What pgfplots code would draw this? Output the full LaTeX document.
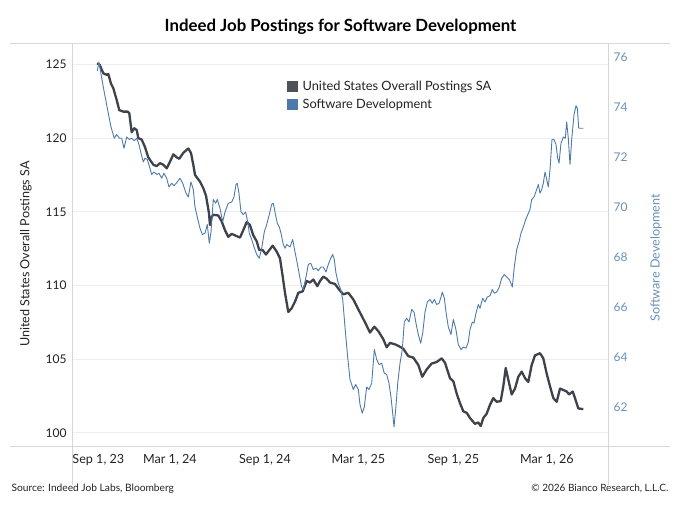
\documentclass[border=0pt]{standalone}
\usepackage{pgfplots}
\pgfplotsset{compat=1.18}
\usepackage{fontspec}
\setmainfont{Lato}
\definecolor{darkser}{HTML}{3F424A}
\definecolor{blueser}{HTML}{4D7AAB}
\definecolor{bluelab}{HTML}{6A8FBA}
\definecolor{framecol}{HTML}{D6D6D6}
\definecolor{gridcol}{HTML}{EEEEEE}
\definecolor{txtcol}{HTML}{222222}
\begin{document}
\begin{tikzpicture}[x=1pt,y=1pt]
\path[use as bounding box] (0,0) rectangle (680,510);
\begin{axis}[
  at={(72pt,64pt)}, anchor=south west,
  width=536pt, height=403pt, scale only axis,
  xmin=-7.7, xmax=1030.4,
  ymin=99.10, ymax=126.46,
  axis x line*=bottom, axis y line*=left,
  axis line style={draw=none},
  major tick length=0pt,
  xtick={0,182,366,547,731,912},
  xticklabels={{\makebox[0pt][l]{\hspace{-3.5pt}Sep 1, 23}},{Mar 1, 24},{Sep 1, 24},{Mar 1, 25},{Sep 1, 25},{Mar 1, 26}},
  ytick={100,105,110,115,120,125},
  ymajorgrids, major grid style={gridcol, line width=0.8pt},
  tick label style={font=\fontsize{12}{14}\selectfont, text=txtcol},
  xticklabel style={yshift=-4.5pt, font=\fontsize{12.6}{14}\selectfont},
  yticklabel style={xshift=-2pt},
  /pgf/number format/assume math mode=true,
  clip=false,
]
\addplot[darkser, line width=2.3pt, line join=round] table {
41 125.08
46 124.97
53 124.4
59.5 124.3
62.6 124.36
67.8 123.7
72.2 123.4
78.8 122.6
83.9 121.9
91.6 121.8
100.1 121.8
103.2 121.7
107.9 120.4
112.9 120.67
117.6 120.55
120.7 120.0
127.3 119.9
133.6 119.4
140.0 118.7
149.7 118.2
156.3 118.1
162.7 118.3
169.1 118.2
175.7 117.95
182.1 118.4
188.5 118.9
195.0 118.7
200.1 118.6
207.8 119.0
217.5 119.3
222.7 119.0
227.2 118.2
230.5 117.5
240.2 117.05
246.6 116.6
251.8 116.1
257.6 114.9
259.5 114.1
262.8 114.65
265.9 114.8
275.6 114.75
282.2 114.35
288.6 113.75
295.0 113.3
301.6 113.5
308.0 113.4
317.7 113.25
324.0 113.75
330.6 114.3
337.0 114.1
343.4 113.4
350.0 113.0
355.0 112.4
361.6 112.4
368.0 112.1
374.4 112.4
381.0 112.7
388.7 112.3
395.1 111.85
400.4 110.6
404.8 109.5
411.2 108.2
417.8 108.45
424.2 108.9
430.6 109.5
439.1 109.6
446.8 110.3
453.2 110.2
459.6 110.4
467.4 109.95
472.6 110.3
479.0 110.6
485.6 110.45
492.0 110.2
501.6 110.1
510.0 109.7
517.7 109.4
527.4 109.5
537.1 109.05
550.1 108.15
559.8 107.5
569.4 106.8
577.8 107.2
585.5 106.9
595.2 106.35
601.8 105.8
608.2 106.1
617.9 106.0
624.3 105.9
634.0 105.7
643.6 105.2
653.3 105.1
663.0 104.6
670.7 103.8
679.3 104.3
689.0 104.7
698.6 104.8
708.3 105.05
714.7 104.75
724.4 103.7
730.8 103.5
737.4 102.65
743.8 102.0
750.2 101.45
756.8 101.35
763.1 101.0
772.8 100.6
779.2 100.7
783.9 100.45
788.9 101.0
795.5 101.3
801.9 101.9
808.3 102.35
814.9 102.1
822.6 102.15
827.6 103.15
832.3 104.4
837.3 103.6
843.9 102.6
850.3 103.0
856.7 103.8
863.3 104.15
869.7 103.7
876.1 103.45
882.6 104.6
889.0 105.25
898.7 105.4
905.1 105.05
911.7 104.0
918.1 103.15
924.5 102.35
931.1 102.1
937.5 103.0
943.9 102.9
950.4 102.8
954.9 102.6
962.1 102.8
966.5 102.35
972.9 101.65
982.6 101.6
};
\end{axis}
\begin{axis}[
  at={(72pt,64pt)}, anchor=south west,
  width=536pt, height=403pt, scale only axis,
  xmin=-7.7, xmax=1030.4,
  ymin=60.44, ymax=76.56,
  axis x line=none, axis y line*=right,
  axis line style={draw=none},
  major tick length=0pt,
  ytick={62,64,66,68,70,72,74,76},
  tick label style={font=\fontsize{12}{14}\selectfont, text=bluelab},
  yticklabel style={xshift=2pt},
  /pgf/number format/assume math mode=true,
  clip=false,
  legend style={at={(0.400,0.912)}, anchor=north west, draw=none, fill=none,
    font=\fontsize{12.8}{14}\selectfont, text=txtcol, row sep=3.5pt,
    inner sep=0pt, /tikz/every odd column/.append style={column sep=3pt}},
  legend cell align=left,
  legend image code/.code={\fill[#1,draw=none] (0pt,-5.5pt) rectangle (11pt,5.5pt);},
]
\addlegendimage{fill=darkser!92!white}
\addlegendentry{United States Overall Postings SA}
\addplot[blueser, line width=0.9pt, line join=round] table {
41.3 75.45
44.5 75.8
48.4 75.33
52.9 74.8
57.5 74.3
62.6 73.75
67.8 73.2
74.2 72.75
78.8 72.9
83.9 72.75
88.5 72.75
93.0 72.35
98.2 72.8
103.2 72.7
107.9 72.75
112.9 72.65
117.6 72.75
122.0 72.5
125.9 72.15
130.4 71.8
133.6 71.95
138.1 71.9
143.3 71.55
146.6 71.3
151.1 71.4
156.3 71.3
160.8 71.35
166.0 71.15
170.4 71.35
175.7 71.15
180.1 70.8
185.4 70.95
189.8 70.85
195.0 70.97
201.4 71.15
206.7 70.95
213.1 70.55
217.5 70.4
222.7 71.0
227.2 70.7
230.5 70.0
234.9 69.6
240.2 69.15
244.6 68.9
249.9 68.95
254.3 69.3
258.2 68.55
261.5 69.0
265.9 70.3
270.6 70.15
273.7 70.3
278.9 69.95
284.1 69.4
288.6 69.8
295.0 70.15
301.6 70.2
306.0 70.4
309.9 70.9
312.4 70.95
315.7 70.55
319.6 69.8
324.0 69.7
328.7 69.8
332.6 69.4
335.7 68.95
340.3 68.7
344.8 68.4
350.0 68.1
355.0 67.95
359.7 68.35
364.7 69.0
369.4 69.3
374.4 69.7
379.0 70.1
382.2 70.15
385.4 69.8
389.9 69.35
393.8 69.2
397.1 68.95
401.5 68.5
404.8 68.35
408.1 68.5
414.5 68.4
419.7 68.7
424.2 68.2
428.6 67.75
432.5 67.3
437.2 66.8
440.2 66.7
445.5 67.2
449.9 67.7
454.6 67.75
459.6 67.5
464.9 67.55
469.3 67.45
474.5 67.6
479.0 67.6
484.2 67.4
488.7 67.7
493.3 67.95
497.2 68.1
500.3 67.9
503.6 67.35
508.0 66.95
512.7 66.7
516.6 66.3
521.0 65.2
526.2 64.0
530.7 63.1
537.1 62.7
541.7 62.9
546.8 62.7
550.1 62.1
554.5 61.75
558.4 62.0
563.0 62.8
567.5 62.7
572.7 62.95
577.8 64.3
582.4 63.9
586.9 63.7
592.1 63.75
597.1 63.35
601.8 63.3
606.2 62.95
610.1 62.4
613.4 61.75
615.9 61.2
619.2 61.9
623.1 62.95
627.6 63.75
632.0 64.3
635.9 65.4
640.5 65.55
645.0 65.4
650.2 65.9
654.7 65.8
658.5 65.35
663.0 64.9
667.6 64.55
671.5 64.95
676.0 65.8
680.4 66.2
685.7 66.3
690.1 66.15
694.0 66.3
698.6 66.1
703.1 66.15
707.0 66.4
709.5 66.6
713.4 66.35
716.6 65.8
721.1 65.2
726.3 64.9
730.8 65.5
735.4 65.15
740.5 64.5
745.7 64.3
750.2 64.4
755.4 64.35
759.8 64.6
763.1 65.1
767.6 65.4
770.9 65.35
774.7 65.75
779.2 66.1
782.5 65.95
787.7 66.35
792.2 66.2
796.6 66.4
801.9 66.45
806.3 66.7
810.2 66.55
814.9 66.6
819.9 66.8
824.5 67.15
829.6 67.3
834.2 67.2
839.3 67.1
845.1 66.8
848.9 67.6
853.6 68.3
858.0 68.6
861.9 68.95
866.4 69.2
871.0 69.5
876.1 69.75
879.3 69.9
882.6 70.3
887.1 70.4
892.3 70.7
895.4 70.9
898.7 70.55
902.0 70.7
905.1 70.95
908.4 71.4
911.7 71.1
914.8 70.8
918.1 71.5
921.9 72.7
925.8 72.7
929.7 72.5
933.0 71.95
935.5 71.75
939.4 72.55
943.9 72.8
947.7 72.75
950.4 73.4
953.5 72.75
956.8 71.7
960.1 72.7
964.6 73.7
968.4 74.05
971.0 73.95
973.7 73.15
982.6 73.15
};
\addlegendentry{Software Development}
\end{axis}
% frame lines
\draw[framecol, line width=0.9pt] (72,25) -- (72,467);
\draw[framecol, line width=0.9pt] (608,25) -- (608,467);
\draw[framecol, line width=0.9pt] (10,467) -- (670,467);
\draw[framecol, line width=0.9pt] (10,64) -- (670,64);
% titles and labels
\node[font=\fontsize{16.8}{19}\selectfont\bfseries, text=black] at (340.5,483) {Indeed Job Postings for Software Development};
\node[rotate=90, font=\fontsize{12.6}{14}\selectfont, text=txtcol] at (26,256) {United States Overall Postings SA};
\node[rotate=90, font=\fontsize{12.6}{14}\selectfont, text=bluelab] at (656,252) {Software Development};
\node[anchor=west, font=\fontsize{10.2}{12}\selectfont, text=txtcol] at (8,21) {Source: Indeed Job Labs, Bloomberg};
\node[anchor=east, font=\fontsize{10}{12}\selectfont, text=txtcol] at (672,21) {\textcopyright{} 2026 Bianco Research, L.L.C.};
\end{tikzpicture}
\end{document}
